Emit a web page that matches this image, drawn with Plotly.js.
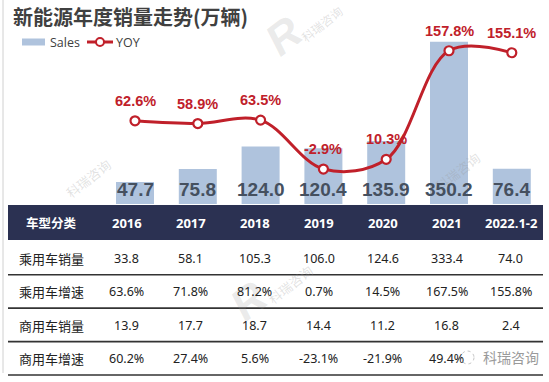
<!DOCTYPE html>
<html>
<head>
<meta charset="utf-8">
<script src="https://cdn.plot.ly/plotly-3.0.1.min.js"></script>
<style>html,body{margin:0;padding:0;background:#fff;}#chart{width:549px;height:382px;}</style>
</head>
<body>
<div id="chart"></div>
<script>
// ---- data ----
const categories = ['2016', '2017', '2018', '2019', '2020', '2021', '2022.1-2'];
const sales = [47.7, 75.8, 124.0, 120.4, 135.9, 350.2, 76.4];
const yoy = [62.6, 58.9, 63.5, -2.9, 10.3, 157.8, 155.1];
const headerLabel = '车型分类';
const rowLabels = ['乘用车销量', '乘用车增速', '商用车销量', '商用车增速'];
const passengerSales = [33.8, 58.1, 105.3, 106.0, 124.6, 333.4, 74.0];
const passengerGrowth = [63.6, 71.8, 81.2, 0.7, 14.5, 167.5, 155.8];
const commercialSales = [13.9, 17.7, 18.7, 14.4, 11.2, 16.8, 2.4];
const commercialGrowth = [60.2, 27.4, 5.6, -23.1, -21.9, 49.4, null];
const titleText = '新能源年度销量走势(万辆)';
const watermarkText = '科瑞咨询';

// ---- styling / layout helpers ----
const W = 549, H = 382;
const px = v => v / W;          // x pixel -> paper
const py = v => 1 - v / H;      // y pixel (from top) -> paper
const RED = '#C0202A';
const BAR = '#AFC3DD';
const NAVY = '#2B3152';
const CJK = '"Noto Sans CJK SC", "Noto Sans", sans-serif';
const NUM = '"Noto Sans", "Noto Sans CJK SC", sans-serif';
const ARIAL = '"Liberation Sans", Arial, sans-serif';
const NARROW = '"Liberation Sans Narrow", "Liberation Sans", Arial, sans-serif';

const traces = [
  {
    type: 'bar', x: categories, y: sales, name: 'Sales',
    marker: {color: BAR}, hoverinfo: 'skip', showlegend: false
  },
  {
    type: 'scatter', mode: 'lines+markers', x: categories, y: yoy, yaxis: 'y2', name: 'YOY',
    line: {color: RED, width: 3, shape: 'spline', smoothing: 1},
    marker: {size: 9, color: '#ffffff', line: {color: RED, width: 2.2}},
    hoverinfo: 'skip', showlegend: false
  }
];

const annotations = [];
const shapes = [];

// title
annotations.push({xref: 'paper', yref: 'paper', x: px(11), y: py(16), xanchor: 'left', yanchor: 'middle',
  text: '<b>' + titleText + '</b>', showarrow: false, font: {family: CJK, size: 20, color: '#404040'}});

// legend (manual)
shapes.push({type: 'rect', xref: 'paper', yref: 'paper', x0: px(22), x1: px(45), y0: py(38.5), y1: py(45.5),
  fillcolor: BAR, line: {width: 0}});
annotations.push({xref: 'paper', yref: 'paper', x: px(48), y: py(42), xanchor: 'left', yanchor: 'middle',
  text: 'Sales', showarrow: false, font: {family: '"Open Sans", sans-serif', size: 12.5, color: '#404040'}});
shapes.push({type: 'line', xref: 'paper', yref: 'paper', x0: px(87), x1: px(113), y0: py(42), y1: py(42),
  line: {color: RED, width: 3}});
shapes.push({type: 'circle', xref: 'paper', yref: 'paper', x0: px(96), x1: px(104), y0: py(38), y1: py(46),
  fillcolor: '#ffffff', line: {color: RED, width: 2}});
annotations.push({xref: 'paper', yref: 'paper', x: px(114), y: py(42), xanchor: 'left', yanchor: 'middle',
  text: 'YOY', showarrow: false, font: {family: '"Open Sans", sans-serif', size: 12.5, color: '#404040'}});

// watermarks
const wm = 'rgba(150,150,150,0.28)';
[[322, 24, 12], [88, 178, 13], [458, 172, 13], [290, 284, 13]].forEach(([x, y, s]) => {
  annotations.push({xref: 'paper', yref: 'paper', x: px(x), y: py(y), xanchor: 'center', yanchor: 'middle',
    text: watermarkText, textangle: -38, showarrow: false, font: {family: CJK, size: s, color: wm}});
});
[[283, 35], [248, 300]].forEach(([x, y]) => {
  annotations.push({xref: 'paper', yref: 'paper', x: px(x), y: py(y), xanchor: 'center', yanchor: 'middle',
    text: '<b><i>R</i></b>', textangle: -38, showarrow: false, font: {family: ARIAL, size: 44, color: 'rgba(150,150,150,0.2)'}});
});

// bar value labels and YOY labels (x = category index on the category axis)
categories.forEach((c, i) => {
  annotations.push({xref: 'x', yref: 'y', x: i, y: 0, yanchor: 'middle', xanchor: 'center', yshift: 15,
    text: '<b>' + sales[i].toFixed(1) + '</b>', showarrow: false,
    font: {family: NARROW, size: 19, color: '#45505F'}});
  annotations.push({xref: 'x', yref: 'y2', x: i, y: yoy[i], yanchor: 'middle', xanchor: 'center', yshift: 20,
    text: '<b>' + yoy[i].toFixed(1) + '%</b>', showarrow: false,
    font: {family: ARIAL, size: 14.5, color: RED}});
});

// table
const colX = i => (i === 0 ? 51 : 126.5 + (i - 1) * 64.08);
shapes.push({type: 'rect', xref: 'paper', yref: 'paper', x0: px(8), x1: px(543), y0: py(205), y1: py(240),
  fillcolor: NAVY, line: {width: 0}, layer: 'below'});
annotations.push({xref: 'paper', yref: 'paper', x: px(colX(0)), y: py(222.5), xanchor: 'center', yanchor: 'middle',
  text: '<b>' + headerLabel + '</b>', showarrow: false, font: {family: CJK, size: 12.5, color: '#ffffff'}});
categories.forEach((c, i) => {
  annotations.push({xref: 'paper', yref: 'paper', x: px(colX(i + 1)), y: py(222.5), xanchor: 'center', yanchor: 'middle',
    text: '<b>' + c + '</b>', showarrow: false, font: {family: NUM, size: 13, color: '#ffffff'}});
});
const rows = [
  passengerSales.map(v => v.toFixed(1)),
  passengerGrowth.map(v => v.toFixed(1) + '%'),
  commercialSales.map(v => v.toFixed(1)),
  commercialGrowth.map(v => (v === null ? '' : v.toFixed(1) + '%'))
];
rows.forEach((vals, r) => {
  const yc = 258 + r * 33.6;
  annotations.push({xref: 'paper', yref: 'paper', x: px(colX(0)), y: py(yc), xanchor: 'center', yanchor: 'middle',
    text: rowLabels[r], showarrow: false, font: {family: CJK, size: 13, color: '#222222'}});
  vals.forEach((t, i) => {
    if (t === '') return;
    annotations.push({xref: 'paper', yref: 'paper', x: px(colX(i + 1)), y: py(yc), xanchor: 'center', yanchor: 'middle',
      text: t, showarrow: false, font: {family: NUM, size: 12.5, color: '#222222'}});
  });
  const yl = 274.7 + r * 33.45;
  shapes.push({type: 'line', xref: 'paper', yref: 'paper', x0: px(8), x1: px(543), y0: py(yl), y1: py(yl),
    line: {color: '#333333', width: 1.6}});
});
// bottom-right watermark
shapes.push({type: 'circle', xref: 'paper', yref: 'paper', x0: px(461), x1: px(474), y0: py(351), y1: py(364),
  fillcolor: 'rgba(255,255,255,0.9)', line: {color: 'rgba(160,160,160,0.6)', width: 1, dash: 'dot'}});
annotations.push({xref: 'paper', yref: 'paper', x: px(511), y: py(357), xanchor: 'center', yanchor: 'middle',
  text: watermarkText, showarrow: false, font: {family: CJK, size: 14, color: '#9a9a9a'}});

// left border line
shapes.push({type: 'line', xref: 'paper', yref: 'paper', x0: px(3), x1: px(3), y0: py(0), y1: py(373),
  line: {color: '#d0d0d0', width: 1}});

const layout = {
  width: W, height: H,
  margin: {l: 0, r: 0, t: 0, b: 0, pad: 0},
  paper_bgcolor: '#ffffff', plot_bgcolor: 'rgba(0,0,0,0)',
  showlegend: false,
  bargap: 0.395,
  xaxis: {type: 'category', domain: [103.6 / W, 543.2 / W], range: [-0.5, 6.5],
    showticklabels: false, showgrid: false, zeroline: false, showline: false, ticks: ''},
  yaxis: {domain: [py(204), py(30)], range: [0, 174 / 0.463],
    visible: false, showgrid: false, zeroline: false},
  yaxis2: {domain: [py(204), py(30)], overlaying: 'y', range: [(166.9 - 204) / 0.736, (166.9 - 30) / 0.736],
    visible: false, showgrid: false, zeroline: false},
  annotations: annotations,
  shapes: shapes
};

Plotly.newPlot('chart', traces, layout, {displayModeBar: false, staticPlot: true});
</script>
</body>
</html>
